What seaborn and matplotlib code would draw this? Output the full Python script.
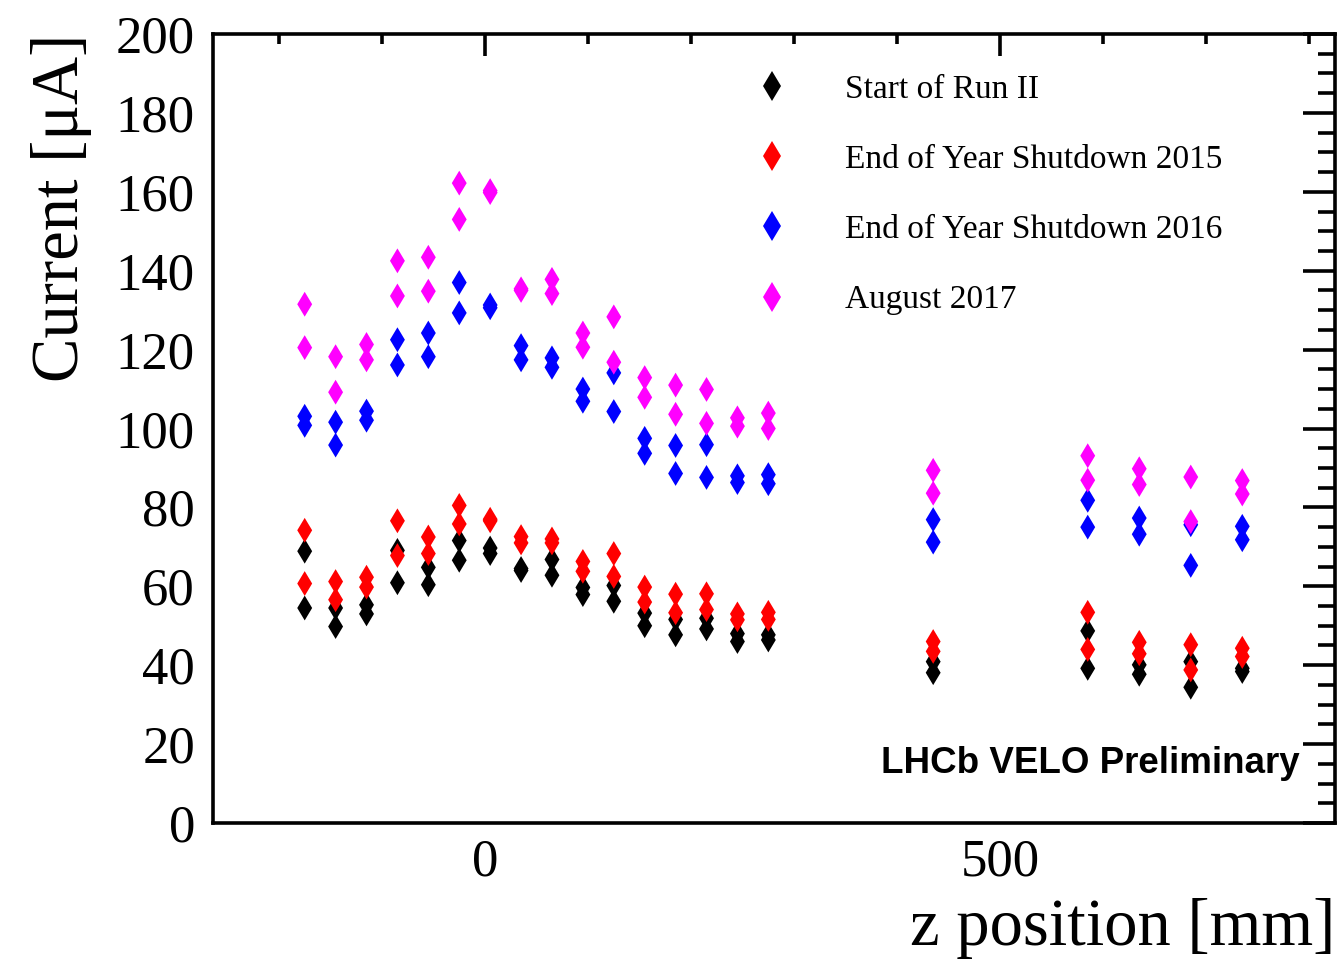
import matplotlib
matplotlib.use("Agg")
import matplotlib.pyplot as plt
import seaborn as sns
import pandas as pd
from matplotlib.ticker import MultipleLocator

# module z positions [mm]
z_pos = [-175, -145, -115, -85, -55, -25, 5, 35, 65, 95, 125, 155,
         185, 215, 245, 275, 435, 585, 635, 685, 735]

# two sensors per module, current in uA
start_run2 = [(68.9, 54.5), (54.5, 49.8), (55.3, 53.0), (69.1, 60.9), (64.8, 60.4),
              (71.6, 66.6), (69.7, 68.3), (64.5, 64.0), (66.8, 62.8), (59.7, 57.9),
              (60.2, 56.2), (53.2, 50.0), (51.6, 47.7), (51.9, 49.2), (48.0, 46.0),
              (47.7, 46.4), (40.9, 38.1), (48.7, 39.2), (40.1, 37.7), (40.9, 34.4),
              (39.2, 38.4)]
eoy_2015 = [(74.2, 60.7), (61.2, 56.6), (62.3, 59.8), (76.6, 67.8), (72.5, 68.3),
            (80.5, 75.8), (77.0, 76.6), (72.6, 71.0), (72.0, 71.0), (66.3, 63.8),
            (68.3, 62.5), (59.8, 56.0), (58.0, 53.3), (58.1, 54.1), (53.0, 51.5),
            (53.4, 51.6), (46.0, 43.5), (53.4, 44.0), (45.8, 42.9), (45.2, 38.8),
            (44.3, 42.2)]
eoy_2016 = [(103.1, 100.8), (101.6, 95.8), (104.4, 102.1), (122.5, 116.1), (124.2, 118.2),
            (137.0, 129.3), (131.3, 130.6), (121.0, 117.4), (117.9, 115.5), (110.0, 106.9),
            (114.1, 104.3), (97.5, 93.7), (95.7, 88.6), (95.9, 87.6), (88.0, 86.3),
            (88.3, 86.0), (76.9, 71.2), (81.8, 75.0), (77.3, 73.2), (75.6, 65.3),
            (75.2, 71.8)]
aug_2017 = [(131.5, 120.5), (118.2, 109.2), (121.3, 117.4), (142.5, 133.6), (143.4, 134.8),
            (162.2, 153.0), (160.3, 159.8), (135.4, 135.0), (137.8, 134.2), (124.2, 120.6),
            (128.3, 116.8), (112.9, 107.9), (111.0, 103.6), (109.9, 101.3), (102.7, 100.6),
            (103.9, 100.0), (89.4, 83.6), (93.1, 86.9), (89.8, 85.8), (87.7, 76.4),
            (86.8, 83.4)]

labels = ["Start of Run II", "End of Year Shutdown 2015",
          "End of Year Shutdown 2016", "August 2017"]
colors = ["#000000", "#ff0000", "#0000ff", "#ff00ff"]

rows = []
for label, series in zip(labels, [start_run2, eoy_2015, eoy_2016, aug_2017]):
    for z, pair in zip(z_pos, series):
        for val in pair:
            rows.append({"z": z, "current": val, "series": label})
df = pd.DataFrame(rows)

sns.set_style("white")
plt.rcParams["font.family"] = ["Liberation Serif", "DejaVu Serif"]
plt.rcParams["text.color"] = "black"
plt.rcParams["axes.labelcolor"] = "black"

fig = plt.figure(figsize=(13.42, 9.6), dpi=100)
ax = fig.add_axes([213 / 1342, 137 / 960, 1122 / 1342, 789 / 960])

sns.scatterplot(data=df, x="z", y="current", hue="series", hue_order=labels,
                palette=colors, marker="d", s=160, linewidth=0, ax=ax)

ax.set_xlim(-264, 825)
ax.set_ylim(0, 200)

ax.xaxis.set_major_locator(MultipleLocator(500))
ax.xaxis.set_minor_locator(MultipleLocator(100))
ax.yaxis.set_major_locator(MultipleLocator(20))
ax.yaxis.set_minor_locator(MultipleLocator(5))

ax.tick_params(axis="both", which="both", direction="in", width=2.6,
               top=True, right=True, labelsize=38, colors="black")
ax.tick_params(axis="y", which="major", length=23, pad=13)
ax.tick_params(axis="y", which="minor", length=12)
ax.tick_params(axis="x", which="major", length=16, pad=11.5)
ax.tick_params(axis="x", which="minor", length=7)
for sp in ax.spines.values():
    sp.set_linewidth(2.6)
    sp.set_color("black")

ax.set_xlabel("z position [mm]", fontsize=48, loc="right")
ax.set_ylabel("Current [\u03bcA]", fontsize=48, loc="top")
ax.xaxis.set_label_coords(1.0, -0.095)
ax.yaxis.set_label_coords(-0.108, 1.0)

handles, lbls = ax.get_legend_handles_labels()
ax.legend(handles, lbls, loc="upper left", bbox_to_anchor=(0.4415, 0.987),
          frameon=False, fontsize=24, handlelength=2.0, handletextpad=1.19,
          labelspacing=1.19, borderpad=0.4, markerscale=1.2)

ax.text(0.969, 0.063, "LHCb VELO Preliminary", transform=ax.transAxes,
        ha="right", va="baseline", fontsize=26.5, fontweight="bold",
        family="Liberation Sans")

fig.savefig("out.png", dpi=100)
